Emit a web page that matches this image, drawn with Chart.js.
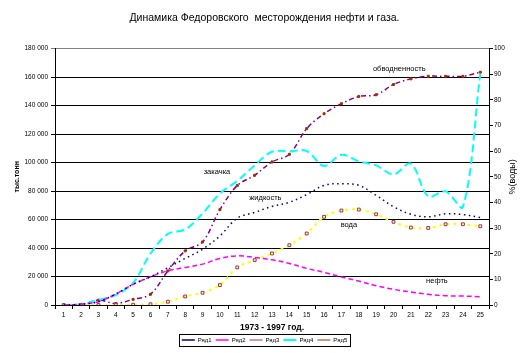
<!DOCTYPE html>
<html>
<head>
<meta charset="utf-8">
<script src="https://cdn.jsdelivr.net/npm/chart.js@4.4.0/dist/chart.umd.min.js"></script>
<style>
  html, body { margin: 0; padding: 0; background: #fff; }
  #wrap { width: 529px; height: 353px; }
</style>
</head>
<body>
<div id="wrap"><canvas id="chart"></canvas></div>
<script>
// годы разработки 1973-1997 (номер года)
const years = ['1','2','3','4','5','6','7','8','9','10','11','12','13','14','15','16','17','18','19','20','21','22','23','24','25']

// тыс. тонн
const zhidkost = [0, 500, 2300, 7700, 14500, 19800, 26100, 32700, 39200, 48500, 61000, 65000, 69200, 72100, 77500, 84000, 85200, 84000, 77000, 69000, 63700, 61900, 64000, 63500, 61400]
const neft = [0, 600, 2300, 7700, 14500, 19800, 24000, 26400, 28700, 32700, 34500, 33400, 31700, 29200, 25700, 22900, 19600, 16800, 13500, 11000, 9100, 7500, 6500, 6300, 5800]
const voda = [0, 0, 0, 0, 200, 500, 2300, 6000, 8600, 14000, 26400, 31500, 36200, 42000, 50200, 61900, 66300, 67000, 63700, 58400, 54400, 54100, 56700, 56700, 55300]
const zakachka = [0, 500, 3500, 7000, 15500, 36000, 49900, 53000, 64200, 78200, 87100, 98000, 107600, 107900, 108100, 97600, 105500, 100900, 98000, 91700, 99200, 76300, 79800, 68900, 162300]
// обводненность, %
const obvodn = [0, 0, 1.9, 0.6, 2.2, 4.2, 13.3, 21.1, 24.6, 37.2, 46.6, 50.6, 55.8, 58.8, 68.8, 74.6, 78.5, 81.3, 82.0, 86.0, 88.2, 89.2, 89.2, 89.2, 90.8]

const leftTicks = [0, 20000, 40000, 60000, 80000, 100000, 120000, 140000, 160000, 180000]

// подписи на поле графика: текст, позиция по оси лет, значение по левой оси
const notes = ['закачка', 'жидкость', 'вода', 'нефть', 'обводненность']
const notesAt = [9.83, 12.62, 17.43, 22.5, 20.33]
const notesVal = [93200, 75400, 56500, 16800, 166000]

const FONT = '"Liberation Sans", Arial, sans-serif'
const tickFont = { family: FONT, size: 6.5 }

const spaced = v => String(v).replace(/\B(?=(\d{3})+(?!\d))/g, ' ')

const extras = {
  id: 'extras',
  afterDraw(chart) {
    const ctx = chart.ctx
    const x = chart.scales.x, y = chart.scales.y
    ctx.save()
    ctx.fillStyle = '#000'
    ctx.textAlign = 'center'
    ctx.textBaseline = 'middle'
    ctx.font = '7.5px ' + FONT
    notes.forEach((t, i) => {
      ctx.fillText(t, x.getPixelForValue(notesAt[i] - 1), y.getPixelForValue(notesVal[i]))
    })
    // заголовок правой оси
    ctx.font = '9px ' + FONT
    ctx.translate(chart.width - 16, (chart.chartArea.top + chart.chartArea.bottom) / 2)
    ctx.rotate(-Math.PI / 2)
    ctx.fillText('%(воды)', 0, 0)
    ctx.restore()

    // рамка легенды
    const boxes = chart.legend.legendHitBoxes
    if (boxes && boxes.length) {
      const l = Math.min(...boxes.map(b => b.left)) - 3
      const r = Math.max(...boxes.map(b => b.left + b.width)) + 3
      const t = Math.min(...boxes.map(b => b.top)) - 3
      const b2 = Math.max(...boxes.map(b => b.top + b.height)) + 3
      ctx.save()
      ctx.strokeStyle = '#000'
      ctx.lineWidth = 1
      ctx.strokeRect(Math.round(l) + 0.5, Math.round(t) + 0.5, Math.round(r - l), Math.round(b2 - t))
      ctx.restore()
    }
  }
}

new Chart(document.getElementById('chart'), {
  type: 'line',
  data: {
    labels: years,
    datasets: [
      { label: 'Ряд1', data: zhidkost, yAxisID: 'y', borderColor: '#000080', borderWidth: 1.5, borderDash: [1.5, 3.5], pointRadius: 0, tension: 0.35 },
      { label: 'Ряд2', data: neft, yAxisID: 'y', borderColor: '#ff00ff', borderWidth: 1.5, borderDash: [5, 3], pointRadius: 0, tension: 0.35 },
      { label: 'Ряд3', data: voda, yAxisID: 'y', borderColor: '#ffff00', borderWidth: 2, borderDash: [3, 4], pointStyle: 'rect', pointRadius: 2, pointBorderColor: '#993366', pointBackgroundColor: '#ffff99', pointBorderWidth: 1, tension: 0.35 },
      { label: 'Ряд4', data: zakachka, yAxisID: 'y', borderColor: '#00ffff', borderWidth: 2, borderDash: [8, 4], pointRadius: 0, tension: 0.35 },
      { label: 'Ряд5', data: obvodn, yAxisID: 'y1', borderColor: '#800080', borderWidth: 1.5, borderDash: [5, 3, 1.5, 3], pointStyle: 'rect', pointRadius: 1.4, pointBorderColor: '#993300', pointBackgroundColor: '#993300', pointBorderWidth: 1, tension: 0.35 }
    ]
  },
  options: {
    responsive: true,
    maintainAspectRatio: false,
    animation: false,
    events: [],
    layout: { padding: 0 },
    scales: {
      x: {
        offset: true,
        grid: { offset: true, drawOnChartArea: false, tickLength: 4, color: '#000' },
        border: { color: '#000' },
        ticks: { font: tickFont, color: '#000', padding: 2, maxRotation: 0, autoSkip: false },
        title: { display: true, text: '1973 - 1997 год.', color: '#000', font: { family: FONT, size: 8.5, weight: 'bold' }, padding: { top: 2, bottom: 0 } }
      },
      y: {
        position: 'left',
        min: 0,
        max: 180000,
        afterBuildTicks: s => { s.ticks = leftTicks.map(v => ({ value: v })) },
        ticks: { font: tickFont, color: '#000', padding: 3, callback: v => spaced(v) },
        grid: { color: c => (c.tick && c.tick.value === 180000) ? '#808080' : '#000', lineWidth: 1, tickLength: 4 },
        border: { color: '#000' },
        title: { display: true, text: 'тыс.тонн', color: '#000', font: { family: FONT, size: 7, weight: 'bold' }, padding: { top: 13, bottom: 0 } },
        afterFit: s => { s.width = 55 }
      },
      y1: {
        position: 'right',
        min: 0,
        max: 100,
        ticks: { stepSize: 10, font: tickFont, color: '#000', padding: 1 },
        grid: { drawOnChartArea: false, tickLength: 4, color: '#000' },
        border: { color: '#000' },
        afterFit: s => { s.width = 40 }
      }
    },
    plugins: {
      title: {
        display: true,
        text: 'Динамика Федоровского  месторождения нефти и газа.',
        color: '#000',
        font: { family: FONT, size: 10.5, weight: 'normal' },
        padding: { top: 12, bottom: 24 }
      },
      legend: {
        position: 'bottom',
        padding: { top: 4, bottom: 5 },
        labels: {
          font: { family: FONT, size: 6 },
          color: '#000',
          usePointStyle: true,
          pointStyleWidth: 13,
          boxHeight: 6,
          padding: 4,
          generateLabels: chart => Chart.defaults.plugins.legend.labels.generateLabels(chart).map((l, i) => ({ ...l, pointStyle: 'line', lineDash: i === 3 ? [] : l.lineDash }))
        }
      },
      tooltip: { enabled: false }
    }
  },
  plugins: [extras]
})
</script>
</body>
</html>
